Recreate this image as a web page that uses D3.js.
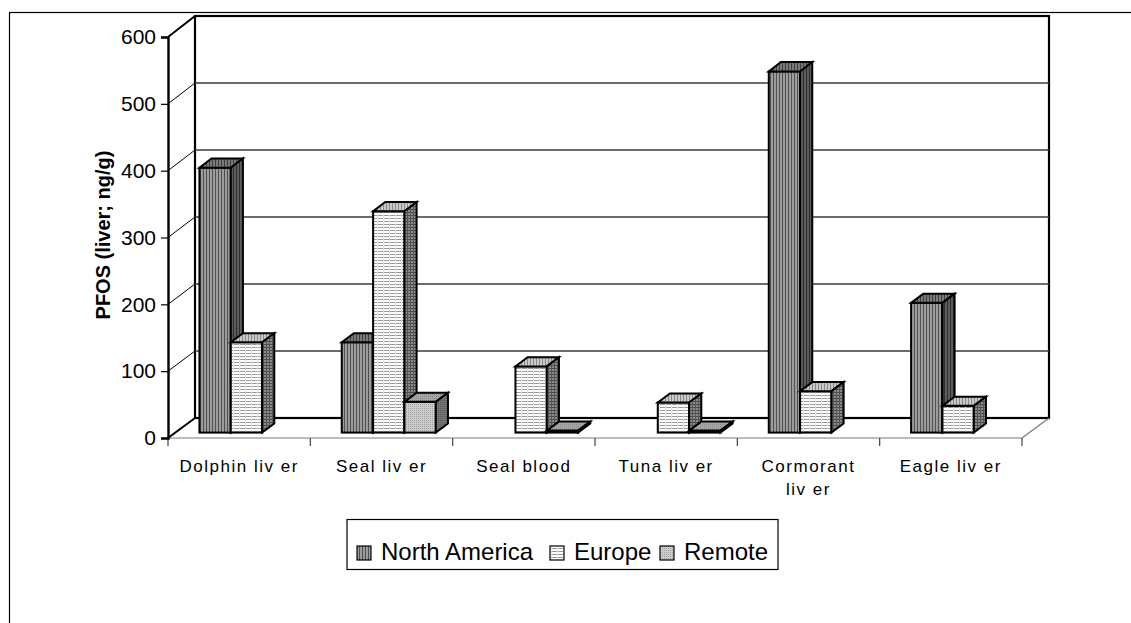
<!DOCTYPE html>
<html>
<head>
<meta charset="utf-8">
<script src="https://cdn.jsdelivr.net/npm/d3@7"></script>
<style>
  html, body { margin: 0; padding: 0; background: #fff; }
  svg { display: block; font-family: Arial, "Liberation Sans", sans-serif; }
</style>
</head>
<body>
<svg id="chart" width="1131" height="623"></svg>
<script>
// PFOS concentrations by tissue and region (ng/g)
const categories = ["Dolphin liv er", "Seal liv er", "Seal blood", "Tuna liv er", "Cormorant\nliv er", "Eagle liv er"];
const series = ["North America", "Europe", "Remote"];
const northAmerica = [396, 135, null, null, 540, 194];
const europe = [135, 331, 99, 45, 62, 40];
const remote = [null, 46, 3, 3, null, null];
const yTicks = [0, 100, 200, 300, 400, 500, 600];

const values = [northAmerica, europe, remote];

const svg = d3.select("#chart");

// outer frame
svg.append("rect").attr("x", 9.5).attr("y", 12.5).attr("width", 1140).attr("height", 640)
  .attr("fill", "none").attr("stroke", "#000").attr("stroke-width", 1.2);

// ---- fill patterns ----
const defs = svg.append("defs");
function stripes(id, w, h, base, lines) {
  const p = defs.append("pattern").attr("id", id).attr("patternUnits", "userSpaceOnUse")
    .attr("width", w).attr("height", h);
  p.append("rect").attr("width", w).attr("height", h).attr("fill", base);
  lines.forEach(l => p.append("rect").attr("x", l[0]).attr("y", l[1]).attr("width", l[2]).attr("height", l[3]).attr("fill", l[4]));
}
// North America: vertical stripes
stripes("naFront", 3, 3, "#9c9c9c", [[2, 0, 1, 3, "#505050"]]);
stripes("naSide", 3, 3, "#5c5c5c", [[2, 0, 1, 3, "#2e2e2e"]]);
stripes("naTop", 3, 3, "#7a7a7a", [[2, 0, 1, 3, "#3e3e3e"]]);
// Europe: horizontal lines on white
stripes("euFront", 6, 3, "#ffffff", [[0, 2, 6, 1, "#9a9a9a"], [5, 0, 1, 3, "#e4e4e4"]]);
stripes("euSide", 3, 3, "#8a8a8a", [[0, 2, 3, 1, "#4a4a4a"], [2, 0, 1, 3, "#555"]]);
stripes("euTop", 3, 3, "#c8c8c8", [[2, 0, 1, 3, "#8a8a8a"]]);
// Remote: fine stipple
stripes("reFront", 2, 2, "#cdcdcd", [[0, 0, 1, 1, "#9e9e9e"]]);
stripes("reSide", 2, 2, "#747474", [[0, 0, 1, 1, "#5a5a5a"]]);
stripes("reTop", 2, 2, "#a6a6a6", [[0, 0, 1, 1, "#8a8a8a"]]);

const fills = {
  "North America": ["url(#naFront)", "url(#naTop)", "url(#naSide)"],
  "Europe": ["url(#euFront)", "url(#euTop)", "url(#euSide)"],
  "Remote": ["url(#reFront)", "url(#reTop)", "url(#reSide)"]
};

// ---- 3D projection: front plane and back wall share the value scale ----
const xLeft = 168, xRight = 1022;
const DX = 27;                       // horizontal shift from front edge to back wall
const yFront = d3.scaleLinear().domain([0, 600]).range([438, 37]);
const yBack = d3.scaleLinear().domain([0, 600]).range([418, 16]);
const yAt = (v, d) => yFront(v) * (1 - d) + yBack(v) * d;

const x0 = d3.scaleBand().domain(categories).range([xLeft, xRight]).padding(0);
const x1 = d3.scaleBand().domain(series).range([0, x0.bandwidth()]).paddingInner(0).paddingOuter(0.77);

const D0 = 0.27, D1 = 0.72;          // bar depth inside the floor

// back wall
svg.append("rect").attr("x", xLeft + DX).attr("y", yBack(600))
  .attr("width", xRight - xLeft).attr("height", yBack(0) - yBack(600))
  .attr("fill", "none").attr("stroke", "#000").attr("stroke-width", 2.2);

// gridlines on back wall and side wall
const grid = svg.append("g");
yTicks.filter(t => t > 0 && t < 600).forEach(t => {
  grid.append("line").attr("x1", xLeft + DX).attr("x2", xRight + DX)
    .attr("y1", yBack(t)).attr("y2", yBack(t)).attr("stroke", "#3a3a3a").attr("stroke-width", 1.3);
  grid.append("line").attr("x1", xLeft).attr("x2", xLeft + DX)
    .attr("y1", yFront(t)).attr("y2", yBack(t)).attr("stroke", "#000").attr("stroke-width", 1);
});

// floor
svg.append("line").attr("x1", xLeft).attr("x2", xRight).attr("y1", yFront(0)).attr("y2", yFront(0))
  .attr("stroke", "#7a7a7a").attr("stroke-width", 1.2);
svg.append("line").attr("x1", xRight).attr("x2", xRight + DX).attr("y1", yFront(0)).attr("y2", yBack(0))
  .attr("stroke", "#7a7a7a").attr("stroke-width", 1.2);
svg.append("line").attr("x1", xLeft).attr("x2", xLeft + DX).attr("y1", yFront(0)).attr("y2", yBack(0))
  .attr("stroke", "#000").attr("stroke-width", 2);

// category ticks below the floor edge
const catTicks = categories.map(c => x0(c)).concat([xRight]);
svg.append("g").selectAll("line").data(catTicks).join("line")
  .attr("x1", d => d).attr("x2", d => d).attr("y1", yFront(0)).attr("y2", yFront(0) + 8)
  .attr("stroke", "#444").attr("stroke-width", 1.2);

// side wall top edge and value axis
svg.append("line").attr("x1", xLeft).attr("x2", xLeft + DX).attr("y1", yFront(600)).attr("y2", yBack(600))
  .attr("stroke", "#000").attr("stroke-width", 2);
const yAxis = svg.append("g").attr("transform", `translate(${xLeft},0)`)
  .call(d3.axisLeft(yFront).tickValues(yTicks).tickSize(7).tickPadding(5));
yAxis.select(".domain").attr("stroke-width", 2.4);
yAxis.selectAll(".tick line").attr("stroke-width", 1.2);
yAxis.selectAll(".tick text").attr("font-size", 21).attr("fill", "#000")
  .attr("font-family", "Arial, 'Liberation Sans', sans-serif");

// ---- bars ----
const bars = svg.append("g").attr("stroke", "#000").attr("stroke-width", 2).attr("stroke-linejoin", "miter");
categories.forEach((c, ci) => {
  series.forEach((s, si) => {
    const v = values[si][ci];
    if (v === null) return;
    const xl = x0(c) + x1(s) + DX * D0;
    const w = x1.bandwidth();
    const dd = DX * (D1 - D0);
    const yt0 = yAt(v, D0), yb0 = yAt(0, D0);
    const yt1 = yAt(v, D1), yb1 = yAt(0, D1);
    const [fFront, fTop, fSide] = fills[s];
    bars.append("rect").attr("x", xl).attr("y", yt0).attr("width", w).attr("height", Math.max(0, yb0 - yt0))
      .attr("fill", fFront);
    bars.append("path").attr("d", `M${xl},${yt0}L${xl + w},${yt0}L${xl + w + dd},${yt1}L${xl + dd},${yt1}Z`)
      .attr("fill", fTop);
    bars.append("path").attr("d", `M${xl + w},${yt0}L${xl + w + dd},${yt1}L${xl + w + dd},${yb1}L${xl + w},${yb0}Z`)
      .attr("fill", fSide);
  });
});

// ---- category labels ----
const catG = svg.append("g").attr("font-size", 17).attr("text-anchor", "middle").attr("fill", "#000");
categories.forEach(c => {
  const t = catG.append("text").attr("x", x0(c) + x0.bandwidth() / 2).attr("y", 472)
    .attr("letter-spacing", 1.5);
  c.split("\n").forEach((line, i) => {
    t.append("tspan").attr("x", x0(c) + x0.bandwidth() / 2).attr("dy", i === 0 ? 0 : 23).text(line);
  });
});

// ---- value axis title ----
svg.append("text").attr("transform", "translate(110,235) rotate(-90)")
  .attr("text-anchor", "middle").attr("font-size", 20).attr("font-weight", "bold")
  .text("PFOS (liver; ng/g)");

// ---- legend ----
const lg = svg.append("g");
lg.append("rect").attr("x", 347).attr("y", 519.5).attr("width", 431).attr("height", 50)
  .attr("fill", "#fff").attr("stroke", "#000").attr("stroke-width", 1.2);
const legendX = [357, 550, 660];
series.forEach((s, i) => {
  lg.append("rect").attr("x", legendX[i]).attr("y", 546).attr("width", 14).attr("height", 14)
    .attr("fill", fills[s][0]).attr("stroke", "#000").attr("stroke-width", 1.2);
  lg.append("text").attr("x", legendX[i] + 24).attr("y", 560).attr("font-size", 24).text(s);
});
</script>
</body>
</html>
